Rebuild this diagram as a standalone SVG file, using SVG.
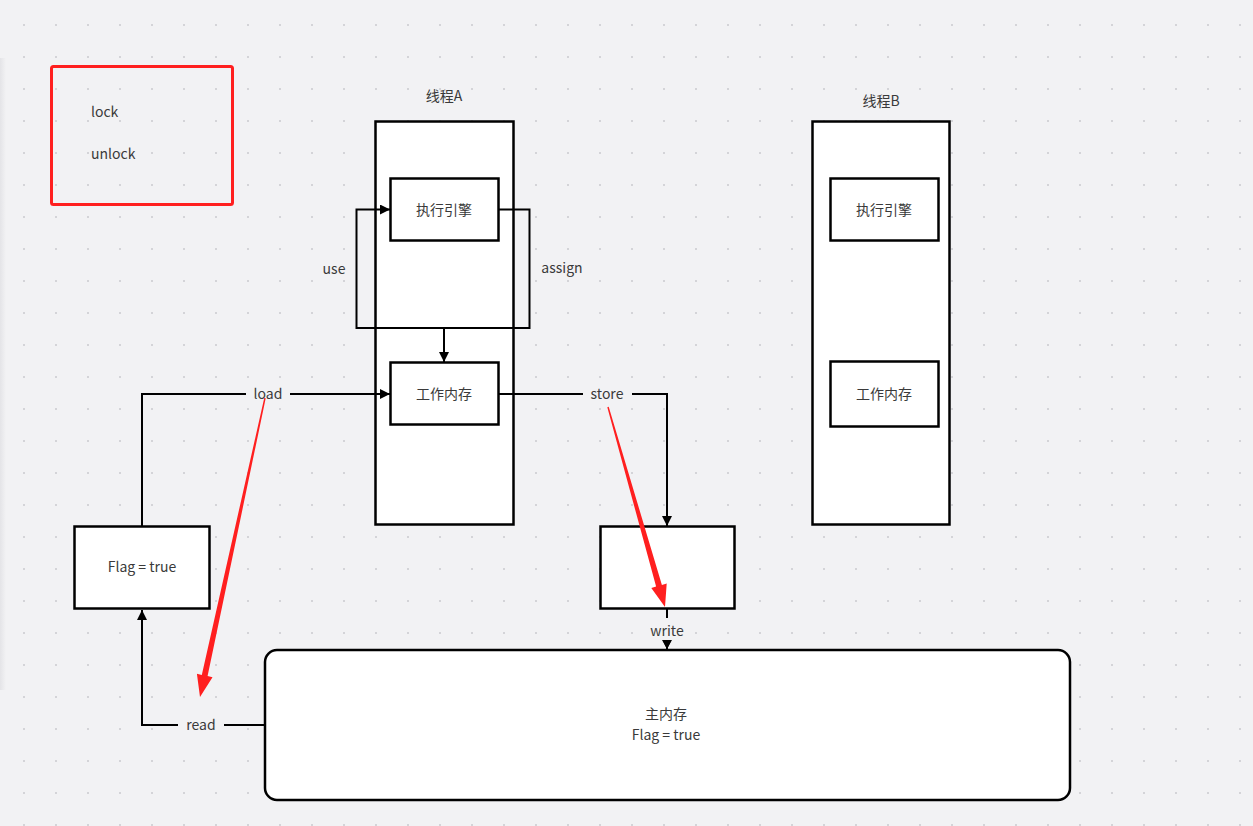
<svg xmlns="http://www.w3.org/2000/svg" width="1253" height="826" viewBox="0 0 1253 826">
<defs>
<pattern id="dots" x="0" y="0" width="32" height="32" patternUnits="userSpaceOnUse">
<rect x="23" y="24" width="2" height="2" fill="#d4d4d8"/>
</pattern>
<marker id="ah" viewBox="0 0 10 10" refX="10" refY="5" markerWidth="10" markerHeight="10" markerUnits="userSpaceOnUse" orient="auto">
<path d="M0,0 L10,5 L0,10 Z" fill="#000"/>
</marker>
<linearGradient id="sh" x1="0" x2="1" y1="0" y2="0">
<stop offset="0" stop-color="#e4e4e7"/>
<stop offset="1" stop-color="#f2f2f4"/>
</linearGradient>
</defs>
<style>
text{font-family:"Noto Sans CJK SC","Noto Sans",sans-serif;font-size:14px;fill:#3a3a3a;}
.c{text-anchor:middle;}
.box{fill:#fff;stroke:#000;stroke-width:2.5;}
.ln{fill:none;stroke:#000;stroke-width:2;}
.lbl{fill:#f2f2f4;}
</style>
<rect width="1253" height="826" fill="#f2f2f4"/>
<rect width="1253" height="826" fill="url(#dots)"/>
<rect x="0" y="58" width="6" height="632" fill="url(#sh)"/>

<g id="lockbox">
<rect x="51.5" y="66.5" width="181" height="138" rx="2" fill="none" stroke="#ff1f1f" stroke-width="3"/>
<text x="91" y="117">lock</text>
<text x="91" y="159">unlock</text>
</g>

<g id="threadA">
<text class="c" x="444" y="101">线程A</text>
<rect class="box" x="375.5" y="121.5" width="138" height="403"/>
</g>
<g id="engineA">
<rect class="box" x="390.5" y="178.5" width="108" height="62"/>
<text class="c" x="444" y="215">执行引擎</text>
</g>
<g id="workA">
<rect class="box" x="390.5" y="362.5" width="108" height="62"/>
<text class="c" x="444" y="399">工作内存</text>
</g>

<g id="threadB">
<text class="c" x="881" y="106">线程B</text>
<rect class="box" x="812.5" y="121.5" width="137" height="403"/>
</g>
<g id="engineB">
<rect class="box" x="830.5" y="178.5" width="108" height="62"/>
<text class="c" x="884" y="215">执行引擎</text>
</g>
<g id="workB">
<rect class="box" x="830.5" y="361.5" width="108" height="65"/>
<text class="c" x="884" y="399">工作内存</text>
</g>

<g id="flagbox">
<rect class="box" x="74.5" y="526.5" width="135" height="82"/>
<text class="c" x="142" y="572">Flag = true</text>
</g>
<g id="buffer">
<rect class="box" x="600.5" y="526.5" width="134" height="82"/>
</g>
<g id="mainmem">
<rect class="box" x="265" y="650" width="805" height="150" rx="12"/>
<text class="c" x="666" y="719">主内存</text>
<text class="c" x="666" y="740">Flag = true</text>
</g>

<g id="connectors">
<polyline class="ln" points="444,362 444,328 356.5,328 356.5,209.5 390,209.5" marker-end="url(#ah)"/>
<polyline class="ln" points="498,209.5 529.5,209.5 529.5,328 444,328 444,362" marker-end="url(#ah)"/>
<polyline class="ln" points="142,526 142,394 390,394" marker-end="url(#ah)"/>
<polyline class="ln" points="498,394 667,394 667,526" marker-end="url(#ah)"/>
<polyline class="ln" points="667,609 667,649" marker-end="url(#ah)"/>
<polyline class="ln" points="265,725 142,725 142,610" marker-end="url(#ah)"/>
<text class="c" x="334" y="274">use</text>
<text class="c" x="562" y="273">assign</text>
<rect class="lbl" x="246" y="385" width="44" height="18"/>
<text class="c" x="268" y="399">load</text>
<rect class="lbl" x="583" y="385" width="49" height="18"/>
<text class="c" x="607" y="399">store</text>
<rect class="lbl" x="178" y="716" width="46" height="18"/>
<text class="c" x="201" y="730">read</text>
<rect class="lbl" x="646" y="618" width="42" height="23"/>
<text class="c" x="667" y="636">write</text>
<path d="M667,649 l-5,-9 h10 z" fill="#000"/>
</g>

<g id="redarrows" fill="#ff1f1f">
<polygon points="265.7,398.2 207.6,676.1 212.5,677.2 200,697 196.9,673.8 201.8,674.9 264.3,397.8"/>
<polygon points="608.7,406.8 661.9,585 666.7,583.6 665,607 651.3,588 656.1,586.6 607.3,407.2"/>
</g>
</svg>
